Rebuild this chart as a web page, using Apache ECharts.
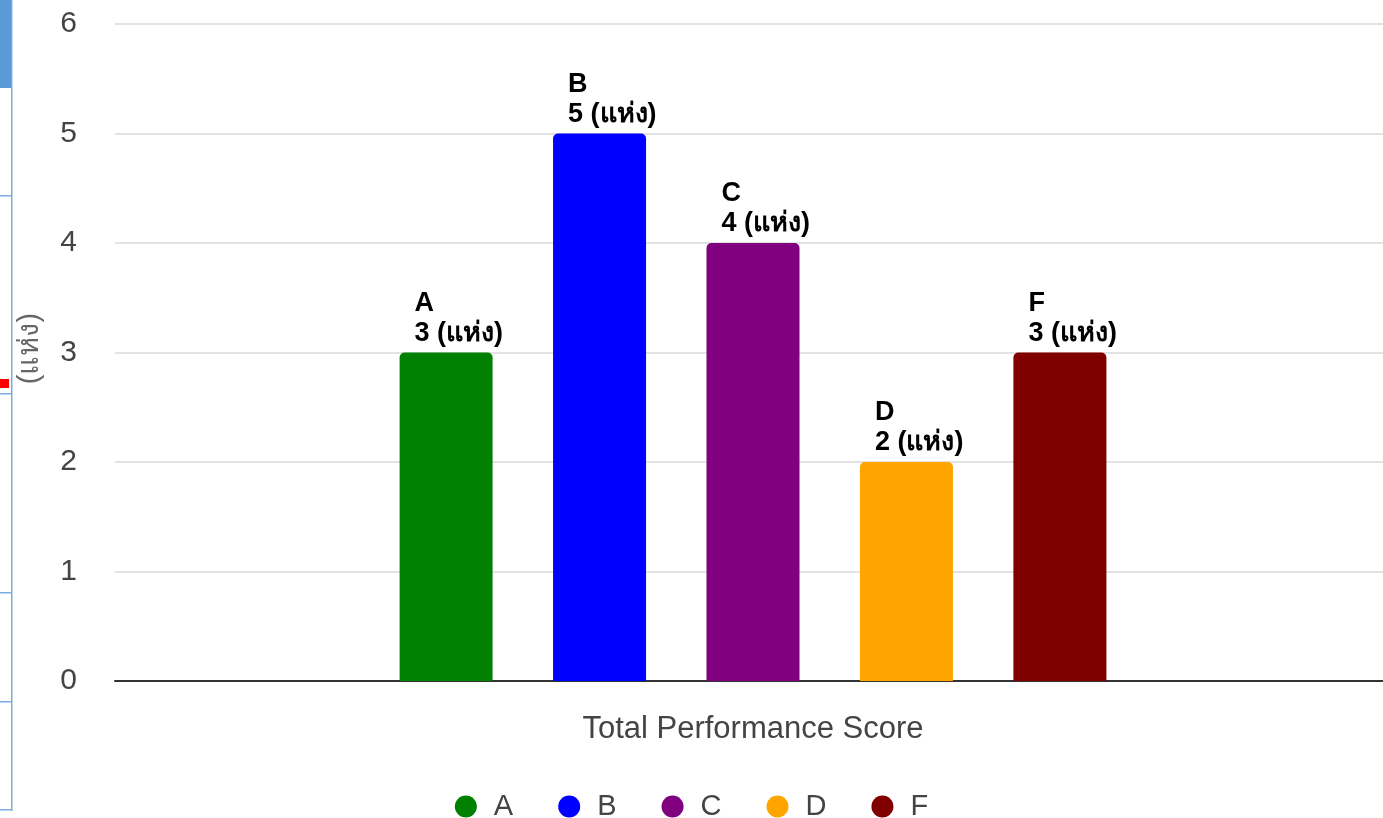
<!DOCTYPE html>
<html>
<head>
<meta charset="utf-8">
<title>Total Performance Score</title>
<script src="https://cdn.jsdelivr.net/npm/echarts@6/dist/echarts.min.js"></script>
<style>
  html, body { margin: 0; padding: 0; background: #fff; }
  #chart { width: 1383px; height: 818px; }
</style>
</head>
<body>
<div id="chart"></div>
<script>
  // ข้อมูล
  var categories = ['Total Performance Score'];
  var grades = ['A', 'B', 'C', 'D', 'F'];
  var counts = [3, 5, 4, 2, 3];
  var unit = 'แห่ง';
  var gradeColors = ['#008000', '#0000ff', '#800080', '#ffa500', '#800000'];

  var font = '"Liberation Sans", Arial, "DejaVu Sans", sans-serif';

  var myChart = echarts.init(document.getElementById('chart'));

  var series = grades.map(function (g, i) {
    return {
      name: g,
      type: 'bar',
      barWidth: 93,
      barGap: '65%',
      itemStyle: { color: gradeColors[i], borderRadius: [5, 5, 0, 0] },
      label: {
        show: true,
        position: [15, -64],
        formatter: '{a}\n{c} (' + unit + ')',
        color: '#000',
        fontFamily: font,
        fontWeight: 'bold',
        fontSize: 27,
        lineHeight: 30
      },
      data: [counts[i]]
    };
  });

  // เส้นขอบของสเปรดชีตด้านซ้าย
  var edgeColor = '#7cace0';
  var edge = [
    { type: 'rect', shape: { x: 0, y: 0, width: 11, height: 88 }, style: { fill: '#5b9bd5' } },
    { type: 'rect', shape: { x: 11, y: 0, width: 1.5, height: 811 }, style: { fill: edgeColor } },
    { type: 'rect', shape: { x: 0, y: 195, width: 12, height: 1.5 }, style: { fill: edgeColor } },
    { type: 'rect', shape: { x: 0, y: 393, width: 12, height: 1.5 }, style: { fill: edgeColor } },
    { type: 'rect', shape: { x: 0, y: 592, width: 12, height: 1.5 }, style: { fill: edgeColor } },
    { type: 'rect', shape: { x: 0, y: 701, width: 12, height: 1.5 }, style: { fill: edgeColor } },
    { type: 'rect', shape: { x: 0, y: 809, width: 12, height: 1.5 }, style: { fill: edgeColor } },
    { type: 'rect', shape: { x: 0, y: 379, width: 9, height: 9 }, style: { fill: '#ff0000' } }
  ];

  var option = {
    animation: false,
    grid: { left: 115, top: 24, width: 1276, bottom: 137, containLabel: false, outerBoundsMode: 'none' },
    legend: {
      data: grades,
      left: 'center',
      top: 787,
      icon: 'circle',
      itemWidth: 22,
      itemHeight: 22,
      itemGap: 45,
      textStyle: { fontFamily: font, fontSize: 29, color: '#444', padding: [0, 0, 0, 12] }
    },
    xAxis: {
      type: 'category',
      data: categories,
      axisTick: { show: false },
      axisLine: { lineStyle: { color: '#333', width: 2 } },
      axisLabel: { fontFamily: font, fontSize: 31, color: '#444', margin: 33 }
    },
    yAxis: {
      type: 'value',
      min: 0,
      max: 6,
      interval: 1,
      name: '(' + unit + ')',
      nameLocation: 'middle',
      nameGap: 71,
      nameRotate: 90,
      nameTextStyle: { fontFamily: font, fontSize: 29, color: '#666', padding: [0, 0, 0, 8] },
      axisLabel: { fontFamily: font, fontSize: 30, color: '#444', margin: 38 },
      splitLine: { lineStyle: { color: '#e3e3e3', width: 2 } }
    },
    graphic: edge,
    series: series
  };

  myChart.setOption(option);
</script>
</body>
</html>
